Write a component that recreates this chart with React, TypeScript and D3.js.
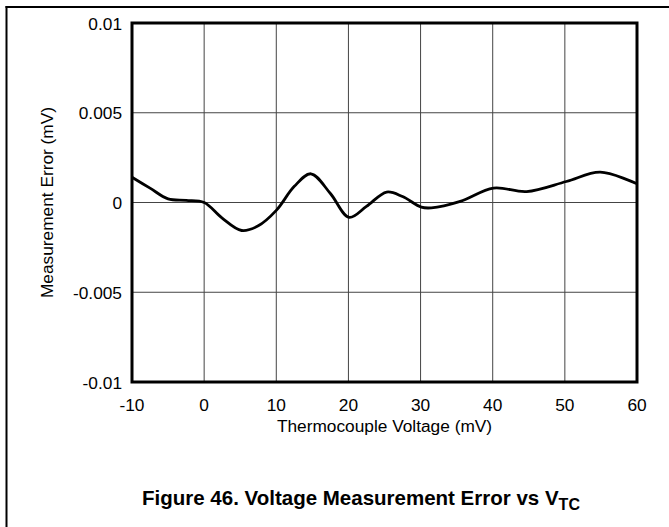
import React from "react";
import * as d3 from "d3";

const xValues = [-10, -7.5, -5, -2.5, 0, 2.5, 5.2, 7.5, 10, 12.5, 14.8, 17.5, 20.1, 22.5, 25.3, 27.5, 30.1, 31.5, 35.5, 40.1, 44.7, 50.2, 54.9, 60];
const errValues = [0.00141, 0.0008, 0.0002, 0.00012, 0.0, -0.00087, -0.00156, -0.0013, -0.00044, 0.0009, 0.0016, 0.0005, -0.00083, -0.00022, 0.00058, 0.00033, -0.00026, -0.0003, 0.00006, 0.0008, 0.00061, 0.00117, 0.00169, 0.00104];
const xTicks = [-10, 0, 10, 20, 30, 40, 50, 60];
const yTicks = [-0.01, -0.005, 0, 0.005, 0.01];
const yTickLabels = ["-0.01", "-0.005", "0", "0.005", "0.01"];

export default function App() {
  const W = 669, H = 527;
  const left = 132, right = 637, top = 23, bottom = 382;
  const x = d3.scaleLinear().domain([-10, 60]).range([left, right]);
  const y = d3.scaleLinear().domain([-0.01, 0.01]).range([bottom, top]);
  const pts = xValues.map((v, i) => [v, errValues[i]] as [number, number]);
  const line = d3.line<[number, number]>().x(d => x(d[0])).y(d => y(d[1])).curve(d3.curveCatmullRom.alpha(0.5));
  const font = "'Liberation Sans', Arial, sans-serif";
  const fs = 17.3;
  return (
    <svg width={W} height={H} style={{ position: "absolute", left: 0, top: 0 }} fontFamily={font}>
      <rect x={0} y={0} width={W} height={H} fill="#fff" />
      <line x1={5.5} y1={7} x2={W} y2={7} stroke="#000" strokeWidth={2} />
      <line x1={6.5} y1={6} x2={6.5} y2={H} stroke="#000" strokeWidth={2} />
      {xTicks.slice(1, -1).map(t => (
        <line key={"gx" + t} x1={x(t)} x2={x(t)} y1={top} y2={bottom} stroke="#444" strokeWidth={1} />
      ))}
      {yTicks.slice(1, -1).map(t => (
        <line key={"gy" + t} x1={left} x2={right} y1={y(t)} y2={y(t)} stroke="#444" strokeWidth={1} />
      ))}
      <rect x={left} y={top} width={right - left} height={bottom - top} fill="none" stroke="#000" strokeWidth={3} />
      <path d={line(pts) || ""} fill="none" stroke="#000" strokeWidth={2.8} />
      {xTicks.map(t => (
        <text key={"tx" + t} x={x(t)} y={bottom + 29} textAnchor="middle" fontSize={fs} fill="#000">{t}</text>
      ))}
      {yTicks.map((t, i) => (
        <text key={"ty" + t} x={left - 10} y={y(t) + 6.5} textAnchor="end" fontSize={fs} fill="#000">{yTickLabels[i]}</text>
      ))}
      <text x={(left + right) / 2} y={bottom + 50} textAnchor="middle" fontSize={fs} fill="#000">Thermocouple Voltage (mV)</text>
      <text transform={`translate(53,${(top + bottom) / 2}) rotate(-90)`} textAnchor="middle" fontSize={fs} fill="#000">Measurement Error (mV)</text>
      <text x={142} y={505} textAnchor="start" fontSize={20.5} fontWeight="bold" fill="#000">
        Figure 46. Voltage Measurement Error vs V<tspan fontSize={16} dy={5}>TC</tspan>
      </text>
    </svg>
  );
}
